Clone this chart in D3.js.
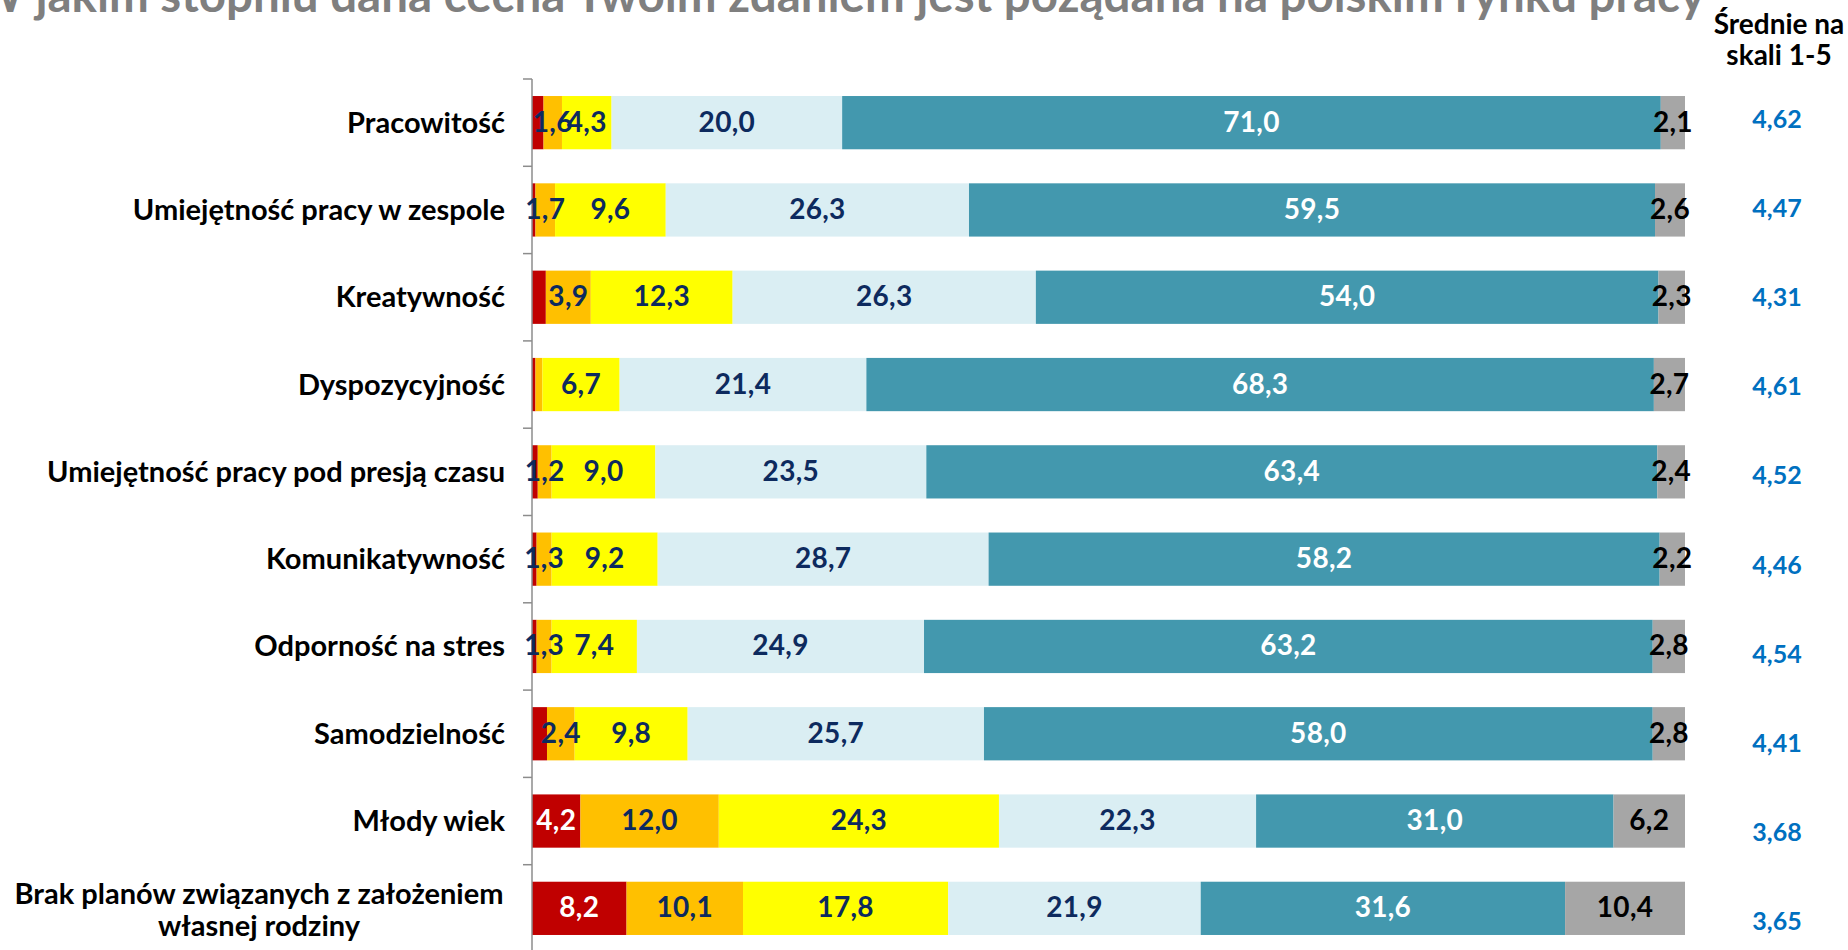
<!DOCTYPE html>
<html>
<head>
<meta charset="utf-8">
<script src="https://cdn.jsdelivr.net/npm/d3@7"></script>
<style>
  body { margin: 0; background: #fff; }
  text { font-family: Lato, "Open Sans", sans-serif; font-weight: bold; }
</style>
</head>
<body>
<div class="chart"></div>
<script>
var categories = [
  "Pracowitość",
  "Umiejętność pracy w zespole",
  "Kreatywność",
  "Dyspozycyjność",
  "Umiejętność pracy pod presją czasu",
  "Komunikatywność",
  "Odporność na stres",
  "Samodzielność",
  "Młody wiek",
  "Brak planów związanych z założeniem własnej rodziny"
];

// answer scale 1..5 plus "trudno powiedzieć"
var val1 = [1.0, 0.3, 1.2, 0.3, 0.5, 0.4, 0.4, 1.3, 4.2, 8.2];
var val2 = [1.6, 1.7, 3.9, 0.6, 1.2, 1.3, 1.3, 2.4, 12.0, 10.1];
var val3 = [4.3, 9.6, 12.3, 6.7, 9.0, 9.2, 7.4, 9.8, 24.3, 17.8];
var val4 = [20.0, 26.3, 26.3, 21.4, 23.5, 28.7, 24.9, 25.7, 22.3, 21.9];
var val5 = [71.0, 59.5, 54.0, 68.3, 63.4, 58.2, 63.2, 58.0, 31.0, 31.6];
var valDk = [2.1, 2.6, 2.3, 2.7, 2.4, 2.2, 2.8, 2.8, 6.2, 10.4];

var means = [4.62, 4.47, 4.31, 4.61, 4.52, 4.46, 4.54, 4.41, 3.68, 3.65];

var titleText = "W jakim stopniu dana cecha Twoim zdaniem jest pożądana na polskim rynku pracy";
var meansHeader = ["Średnie na", "skali 1-5"];
var lastLabelLines = ["Brak planów związanych z założeniem", "własnej rodziny"];

var series = [
  { values: val1, fill: "#C00000", label: "#FFFFFF", minLabel: 2 },
  { values: val2, fill: "#FFC000", label: "#0D2A5E", minLabel: 1 },
  { values: val3, fill: "#FFFF00", label: "#0D2A5E", minLabel: 1 },
  { values: val4, fill: "#DAEEF3", label: "#0D2A5E", minLabel: 1 },
  { values: val5, fill: "#4398AE", label: "#FFFFFF", minLabel: 1 },
  { values: valDk, fill: "#A6A6A6", label: "#000000", minLabel: 1 }
];

var svgWidth = 1848;
var svgHeight = 950;

var svg = d3.select(".chart")
  .append("svg")
  .attr("width", svgWidth)
  .attr("height", svgHeight);

var fmt = function(v, p) { return d3.format("." + p + "f")(v).replace(".", ","); };

// scales
var x = d3.scaleLinear()
  .domain([0, 100])
  .range([532, 1685]);

var y = d3.scaleBand()
  .domain(categories)
  .range([79, 952])
  .paddingInner(0.39)
  .paddingOuter(0.195);

var yMean = d3.scalePoint()
  .domain(categories)
  .range([128, 930]);

// stacked rows
var rows = categories.map(function(c, i) {
  var acc = 0;
  return series.map(function(s) {
    var seg = { cat: c, v: s.values[i], x0: acc, x1: acc + s.values[i], s: s };
    acc += s.values[i];
    return seg;
  });
});
var segs = d3.merge(rows);

svg.append("g").selectAll("rect")
  .data(segs)
  .enter()
  .append("rect")
  .attr("x", d => x(d.x0))
  .attr("y", d => y(d.cat))
  .attr("width", d => x(d.x1) - x(d.x0))
  .attr("height", y.bandwidth())
  .attr("fill", d => d.s.fill);

// axis line with ticks between categories
var axisG = svg.append("g");
axisG.append("line")
  .attr("x1", x(0)).attr("x2", x(0))
  .attr("y1", y.range()[0]).attr("y2", y.range()[1])
  .attr("stroke", "#8C8C8C")
  .attr("stroke-width", 1.5);

var tickYs = categories.map(c => y(c) - y.step() * y.paddingOuter());
tickYs.push(y.range()[1]);
axisG.selectAll(".tk")
  .data(tickYs)
  .enter()
  .append("line")
  .attr("x1", x(0) - 9).attr("x2", x(0))
  .attr("y1", d => d).attr("y2", d => d)
  .attr("stroke", "#8C8C8C")
  .attr("stroke-width", 1.5);

// segment labels
svg.append("g").selectAll("text")
  .data(segs.filter(d => d.v >= d.s.minLabel))
  .enter()
  .append("text")
  .attr("x", d => (x(d.x0) + x(d.x1)) / 2)
  .attr("y", d => y(d.cat) + y.bandwidth() / 2 + 9)
  .attr("text-anchor", "middle")
  .attr("font-size", 28)
  .attr("letter-spacing", 0.3)
  .attr("fill", d => d.s.label)
  .text(d => fmt(d.v, 1));

// category labels
var catG = svg.append("g");
categories.forEach(function(c, i) {
  var cy = y(c) + y.bandwidth() / 2;
  if (i === categories.length - 1) {
    var t = catG.append("text")
      .attr("text-anchor", "middle")
      .attr("font-size", 29)
      .attr("fill", "#000");
    lastLabelLines.forEach(function(line, k) {
      t.append("tspan").attr("x", 259).attr("y", cy - 4 + k * 32).text(line);
    });
  } else {
    catG.append("text")
      .attr("x", 505)
      .attr("y", cy + 10)
      .attr("text-anchor", "end")
      .attr("font-size", 29)
      .attr("fill", "#000")
      .text(c);
  }
});

// means column
svg.append("g").selectAll("text")
  .data(means)
  .enter()
  .append("text")
  .attr("x", 1777)
  .attr("y", (d, i) => yMean(categories[i]))
  .attr("text-anchor", "middle")
  .attr("font-size", 25)
  .attr("fill", "#0070C0")
  .text(d => fmt(d, 2));

svg.append("g").selectAll("text")
  .data(meansHeader)
  .enter()
  .append("text")
  .attr("x", 1779)
  .attr("y", (d, i) => 34 + i * 31)
  .attr("text-anchor", "middle")
  .attr("font-size", 28)
  .attr("fill", "#000")
  .text(d => d);

// title (clipped by the top edge, as in the source)
svg.append("text")
  .attr("x", 1705)
  .attr("y", 12)
  .attr("text-anchor", "end")
  .attr("font-size", 47.5)
  .attr("fill", "#7F7F7F")
  .text(titleText);
</script>
</body>
</html>
